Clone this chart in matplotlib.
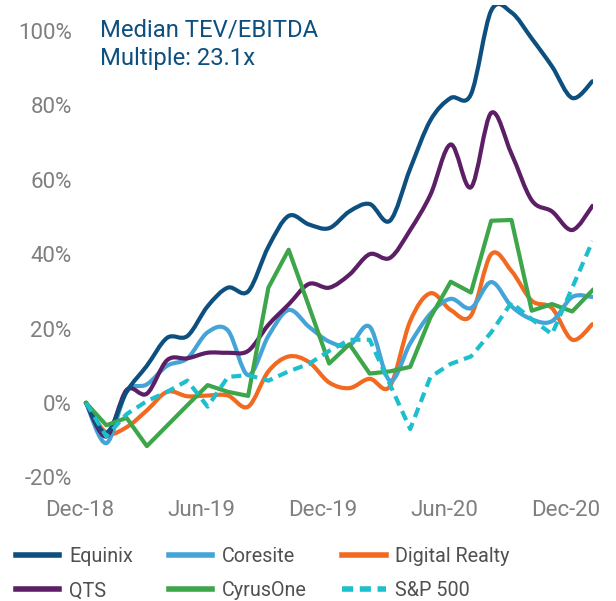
import matplotlib
matplotlib.use('Agg')
import matplotlib.pyplot as plt
from matplotlib.path import Path
from matplotlib.patches import PathPatch
from matplotlib.lines import Line2D
import numpy as np

plt.rcParams['font.family'] = ['Roboto', 'DejaVu Sans']

# monthly points, Dec-18 .. Jan-21 (% change)
equinix = [0, -8, 3, 10, 17.5, 18, 26, 31, 30, 42, 50.3, 48, 47, 51.5, 53.5, 49,
           63, 76, 82, 83, 105.5, 105, 98, 90.5, 82, 86.5]
coresite = [0, -10.8, 3, 5, 10, 12, 19, 19.5, 7.5, 18, 25, 20.5, 16.5, 15.5, 20.5, 6,
            16, 24, 28, 25.5, 32.5, 26, 22.5, 22, 28.5, 28.5]
digital = [0, -8, -6.5, -2, 3, 1.8, 2, 2, -1, 8.5, 12.5, 11, 5.5, 4, 6.5, 4.5,
           22, 29.5, 25, 23.5, 40, 35.5, 27.5, 25.5, 17, 21.2]
qts = [0, -9, 3.5, 2.5, 11.5, 12, 13.5, 13.5, 14, 21, 26.5, 32, 31, 34.5, 40, 39,
       46.5, 56, 69.5, 58, 78, 67, 54.5, 51.5, 46.5, 53]
cyrusone = [0, -6, -4, -11.6, -6.1, -0.6, 4.8, 3.0, 1.9, 31, 41.2, 26, 10.6, 15.8, 7.9, 8.5,
            9.7, 23, 32.6, 29.7, 49, 49.2, 24.8, 26.6, 24.6, 30.3]
sp500 = [0, -9, -3, 0.5, 3, 6, -1, 7, 7.5, 6, 8.5, 10.5, 14, 17, 17, 5,
         -7, 7, 10.5, 12.5, 19, 27, 22.5, 18.5, 31, 43.5]

tick_idx = [0, 6, 12, 18, 24]
tick_labels = ['Dec-18', 'Jun-19', 'Dec-19', 'Jun-20', 'Dec-20']
yticks = [-20, 0, 20, 40, 60, 80, 100]

c_eq = '#0d4f7e'
c_cs = '#44a4d8'
c_dr = '#f26a21'
c_qts = '#5c1f66'
c_cy = '#3da54a'
c_sp = '#1dbfcd'


def smooth_path(y):
    # bezier like excel's smoothed line
    x = np.arange(len(y), dtype=float)
    p = np.column_stack([x, np.asarray(y, dtype=float)])
    verts = [p[0]]
    codes = [Path.MOVETO]
    n = len(p)
    for i in range(n - 1):
        p0 = p[i - 1] if i > 0 else p[i]
        p3 = p[i + 2] if i + 2 < n else p[i + 1]
        c1 = p[i] + (p[i + 1] - p0) / 6.0
        c2 = p[i + 1] - (p3 - p[i]) / 6.0
        verts += [c1, c2, p[i + 1]]
        codes += [Path.CURVE4] * 3
    return Path(verts, codes)


fig = plt.figure(figsize=(6.16, 6.01), dpi=100)
ax = fig.add_axes([80 / 616, 1 - 484.8 / 601, (592.5 - 80) / 616, (484.8 - 5) / 601])

lw = 3.0
for vals, col in [(digital, c_dr), (coresite, c_cs), (qts, c_qts), (equinix, c_eq)]:
    ax.add_patch(PathPatch(smooth_path(vals), fill=False, edgecolor=col, lw=lw,
                           capstyle='round', joinstyle='round'))
x = np.arange(len(sp500))
ax.plot(x, cyrusone, color=c_cy, lw=lw)
ax.plot(x, sp500, color=c_sp, lw=lw, dashes=(2.4, 1.5))

ax.set_xlim(0, 25)
ax.set_ylim(-22, 107)
for s in ax.spines.values():
    s.set_visible(False)
ax.set_xticks(np.array(tick_idx) - 0.3)
ax.set_xticklabels(tick_labels)
ax.set_yticks(yticks)
ax.set_yticklabels([f'{v}%' for v in yticks])
ax.tick_params(length=0, labelsize=16, labelcolor='#7f7f7f')
ax.tick_params(axis='y', pad=6)
ax.tick_params(axis='x', pad=11)

ax.text(20 / 512.5, 1 - 14 / 480, 'Median TEV/EBITDA\nMultiple: 23.1x', transform=ax.transAxes,
        ha='left', va='top', fontsize=17.2, color=c_eq, linespacing=1.3)

handles = [Line2D([], [], color=c_eq, lw=4),
           Line2D([], [], color=c_qts, lw=4),
           Line2D([], [], color=c_cs, lw=4),
           Line2D([], [], color=c_cy, lw=4),
           Line2D([], [], color=c_dr, lw=4),
           Line2D([], [], color=c_sp, lw=4, dashes=(2.0, 1.2))]
labels = ['Equinix', 'QTS', 'Coresite', 'CyrusOne', 'Digital Realty', 'S&P 500']
leg = fig.legend(handles, labels, ncol=3, loc='upper left', bbox_to_anchor=(16 / 616, 1 - 547 / 601),
                 frameon=False, fontsize=14.2, handlelength=2.2, handletextpad=0.5,
                 columnspacing=1.8, labelspacing=0.78, borderaxespad=0, borderpad=0)
for t in leg.get_texts():
    t.set_color('#505050')

fig.savefig('out.png', dpi=100)
